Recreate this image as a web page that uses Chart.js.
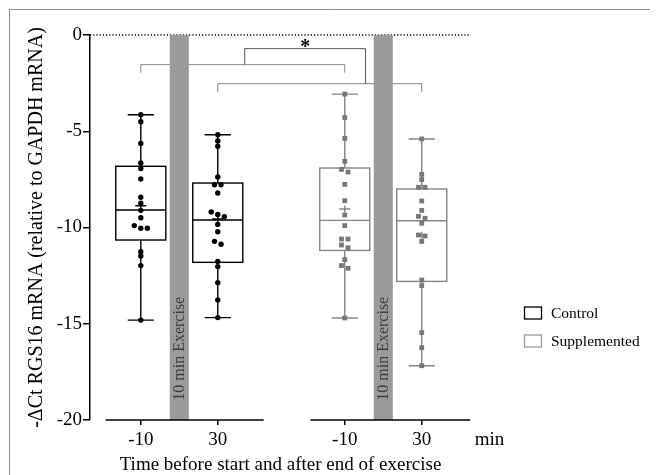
<!DOCTYPE html>
<html>
<head>
<meta charset="utf-8">
<script src="https://cdn.jsdelivr.net/npm/chart.js@4"></script>
<style>
  html, body { margin: 0; padding: 0; background: #fff; }
  #wrap { width: 657px; height: 475px; }
</style>
</head>
<body>
<div id="wrap"><canvas id="chart"></canvas></div>
<script>
// positions of the four boxes on the x scale and their tick labels
const groupX = [1, 2, 3.65, 4.65];
const tickLabels = ['-10', '30', '-10', '30'];
const groupNames = ['Control', 'Control', 'Supplemented', 'Supplemented'];

// individual values
const controlPre = [-4.14, -4.50, -5.63, -6.65, -6.94, -7.48, -8.43, -8.74, -9.11, -9.49, -9.90, -10.04, -10.04, -11.26, -11.48, -11.98, -14.81];
const controlPost = [-5.18, -5.51, -5.78, -7.38, -7.78, -7.78, -8.21, -9.19, -9.32, -9.44, -9.84, -10.22, -10.72, -10.87, -11.77, -12.03, -12.87, -13.77, -14.68];
const supplPre = [-3.07, -4.29, -5.37, -6.56, -6.98, -7.12, -7.76, -8.61, -9.35, -9.90, -10.60, -10.60, -10.91, -11.05, -11.67, -11.98, -12.12, -14.70];
const supplPost = [-5.40, -7.24, -7.51, -7.91, -7.91, -8.62, -9.11, -9.42, -9.52, -9.78, -10.39, -10.44, -10.72, -12.73, -13.02, -15.46, -16.24, -17.18];

// box statistics (min, q1, median, q3, max, mean) per box, same order as groupX
const boxMin = [-14.81, -14.68, -14.70, -17.18];
const boxQ1 = [-10.65, -11.81, -11.19, -12.80];
const boxMedian = [-9.09, -9.61, -9.63, -9.65];
const boxQ3 = [-6.82, -7.69, -6.91, -8.00];
const boxMax = [-4.14, -5.18, -3.07, -5.40];
const boxMean = [-8.87, -9.55, -9.04, -10.40];

// exercise bands and comparison brackets
const exerciseX = [1.5, 4.15];
const bracketLow = [[1, 3.65, -1.54, -1.96], [2, 4.65, -2.53, -2.95]];
const bracketTop = [2.35, 3.92, -0.71];
const starY = -0.47;

const BLACK = '#000000';
const GREY = '#858585';
const serif = '"Liberation Serif", "Times New Roman", serif';

function swarm(vals, cx) {
  const out = [];
  let cluster = [];
  const sorted = [...vals].sort((a, b) => b - a);
  function flush() {
    const n = cluster.length;
    cluster.forEach((v, k) => out.push({ x: cx + (k - (n - 1) / 2) * 0.085, y: v }));
  }
  sorted.forEach((v, i) => {
    if (i && sorted[i - 1] - v < 0.15) cluster.push(v);
    else { flush(); cluster = [v]; }
  });
  flush();
  return out;
}

const boxPlugin = {
  id: 'boxPlugin',
  beforeDatasetsDraw(chart) {
    const { ctx, chartArea: a, scales: { x, y } } = chart;
    ctx.save();

    // dotted zero line
    ctx.strokeStyle = BLACK;
    ctx.lineWidth = 1.3;
    ctx.setLineDash([1.2, 2]);
    ctx.beginPath();
    ctx.moveTo(a.left, y.getPixelForValue(0));
    ctx.lineTo(a.right, y.getPixelForValue(0));
    ctx.stroke();
    ctx.setLineDash([]);

    // brackets
    ctx.strokeStyle = GREY;
    ctx.lineWidth = 1;
    bracketLow.forEach(b => {
      const l = x.getPixelForValue(b[0]), r = x.getPixelForValue(b[1]);
      const t = y.getPixelForValue(b[2]), d = y.getPixelForValue(b[3]);
      ctx.beginPath();
      ctx.moveTo(l, d); ctx.lineTo(l, t); ctx.lineTo(r, t); ctx.lineTo(r, d);
      ctx.stroke();
    });
    ctx.strokeStyle = '#555';
    const tl = x.getPixelForValue(bracketTop[0]), tr = x.getPixelForValue(bracketTop[1]);
    const tt = y.getPixelForValue(bracketTop[2]);
    ctx.beginPath();
    ctx.moveTo(tl, y.getPixelForValue(bracketLow[0][2]));
    ctx.lineTo(tl, tt); ctx.lineTo(tr, tt);
    ctx.lineTo(tr, y.getPixelForValue(bracketLow[1][2]));
    ctx.stroke();
    ctx.fillStyle = BLACK;
    ctx.font = 'bold 20px ' + serif;
    ctx.textAlign = 'center';
    ctx.textBaseline = 'middle';
    ctx.fillText('*', (tl + tr) / 2, y.getPixelForValue(starY) + 4);

    // exercise bands
    exerciseX.forEach(xv => {
      const l = x.getPixelForValue(xv - 0.124), r = x.getPixelForValue(xv + 0.124);
      const top = y.getPixelForValue(0), bot = y.getPixelForValue(-20);
      ctx.fillStyle = '#9b9b9b';
      ctx.fillRect(l, top, r - l, bot - top);
      ctx.save();
      ctx.translate((l + r) / 2 + 0.5, y.getPixelForValue(-16.3));
      ctx.rotate(-Math.PI / 2);
      ctx.font = '16px ' + serif;
      ctx.fillStyle = '#3c3c3c';
      ctx.textAlign = 'center';
      ctx.textBaseline = 'middle';
      ctx.fillText('10 min Exercise', 0, 0);
      ctx.restore();
    });

    // broken x axis
    ctx.strokeStyle = BLACK;
    ctx.lineWidth = 1.5;
    const ay = y.getPixelForValue(-20);
    [[0.542, 2.597], [3.204, 5.28]].forEach(s => {
      ctx.beginPath();
      ctx.moveTo(x.getPixelForValue(s[0]), ay);
      ctx.lineTo(x.getPixelForValue(s[1]), ay);
      ctx.stroke();
    });

    // boxes and whiskers
    groupX.forEach((gx, i) => {
      const col = i < 2 ? BLACK : GREY;
      const cx = x.getPixelForValue(gx);
      const hw = x.getPixelForValue(gx + 0.325) - cx;
      const cap = x.getPixelForValue(gx + 0.17) - cx;
      const q1 = y.getPixelForValue(boxQ1[i]), q3 = y.getPixelForValue(boxQ3[i]);
      const lo = y.getPixelForValue(boxMin[i]), hi = y.getPixelForValue(boxMax[i]);
      const md = y.getPixelForValue(boxMedian[i]), mn = y.getPixelForValue(boxMean[i]);
      ctx.strokeStyle = col;
      ctx.lineWidth = 1.4;
      ctx.strokeRect(cx - hw, q3, hw * 2, q1 - q3);
      ctx.beginPath();
      ctx.moveTo(cx - hw, md); ctx.lineTo(cx + hw, md);
      ctx.moveTo(cx, q3); ctx.lineTo(cx, hi);
      ctx.moveTo(cx - cap, hi); ctx.lineTo(cx + cap, hi);
      ctx.moveTo(cx, q1); ctx.lineTo(cx, lo);
      ctx.moveTo(cx - cap, lo); ctx.lineTo(cx + cap, lo);
      ctx.moveTo(cx - 5.5, mn); ctx.lineTo(cx + 5.5, mn);
      ctx.moveTo(cx, mn - 3.5); ctx.lineTo(cx, mn + 3.5);
      ctx.stroke();
    });
    ctx.restore();
  },
  afterDraw(chart) {
    const { ctx, scales: { x } } = chart;
    ctx.save();
    // frame (top and left only)
    ctx.strokeStyle = '#8c8c8c';
    ctx.lineWidth = 1;
    ctx.beginPath();
    ctx.moveTo(9.5, 480); ctx.lineTo(9.5, 9.5); ctx.lineTo(650, 9.5);
    ctx.stroke();

    // unit label
    ctx.fillStyle = BLACK;
    ctx.font = '19px ' + serif;
    ctx.textAlign = 'center';
    ctx.textBaseline = 'middle';
    ctx.fillText('min', x.getPixelForValue(5.53), 440);

    // legend
    const items = [['Control', BLACK, 313], ['Supplemented', '#9a9a9a', 341]];
    ctx.font = '15.5px ' + serif;
    ctx.textAlign = 'left';
    items.forEach(it => {
      ctx.strokeStyle = it[1];
      ctx.lineWidth = 1.3;
      ctx.strokeRect(524.5, it[2] - 6, 17, 12);
      ctx.fillStyle = BLACK;
      ctx.fillText(it[0], 551, it[2] + 1);
    });
    ctx.restore();
  }
};

const pointSets = [controlPre, controlPost, supplPre, supplPost];

new Chart(document.getElementById('chart'), {
  type: 'scatter',
  data: {
    datasets: pointSets.map((vals, i) => ({
      label: groupNames[i] + ' ' + tickLabels[i],
      data: swarm(vals, groupX[i]),
      pointStyle: i < 2 ? 'circle' : 'rect',
      pointRadius: i < 2 ? 2.7 : 3.4,
      backgroundColor: i < 2 ? BLACK : '#777777',
      borderColor: i < 2 ? BLACK : '#777777',
      borderWidth: 0
    }))
  },
  options: {
    responsive: true,
    maintainAspectRatio: false,
    animation: false,
    layout: { padding: { left: 0, right: 186, top: 35, bottom: 0 } },
    plugins: { legend: { display: false }, tooltip: { enabled: false } },
    scales: {
      x: {
        type: 'linear',
        min: 0.34,
        max: 5.29,
        afterBuildTicks: s => { s.ticks = groupX.map(v => ({ value: v })); },
        afterFit: s => { s.height = 55; },
        ticks: {
          callback: (v, i) => tickLabels[i],
          font: { family: serif, size: 19 },
          color: BLACK,
          maxRotation: 0,
          autoSkip: false,
          padding: 4
        },
        grid: { drawOnChartArea: false, drawTicks: true, tickLength: 5, color: BLACK, lineWidth: 1.5 },
        border: { display: false },
        title: {
          display: true,
          text: 'Time before start and after end of exercise',
          font: { family: serif, size: 19, lineHeight: 1 },
          color: BLACK,
          padding: 0
        }
      },
      y: {
        min: -20,
        max: 0,
        afterFit: s => { s.width = 90; },
        ticks: {
          stepSize: 5,
          font: { family: serif, size: 19 },
          color: BLACK,
          padding: 1
        },
        grid: { drawOnChartArea: false, drawTicks: true, tickLength: 7, color: BLACK, lineWidth: 1.5 },
        border: { display: true, color: BLACK, width: 1.5 },
        title: {
          display: true,
          text: '-ΔCt RGS16 mRNA (relative to GAPDH mRNA)',
          font: { family: serif, size: 20 },
          color: BLACK,
          padding: { top: 25, bottom: 0 }
        }
      }
    }
  },
  plugins: [boxPlugin]
});
</script>
</body>
</html>
